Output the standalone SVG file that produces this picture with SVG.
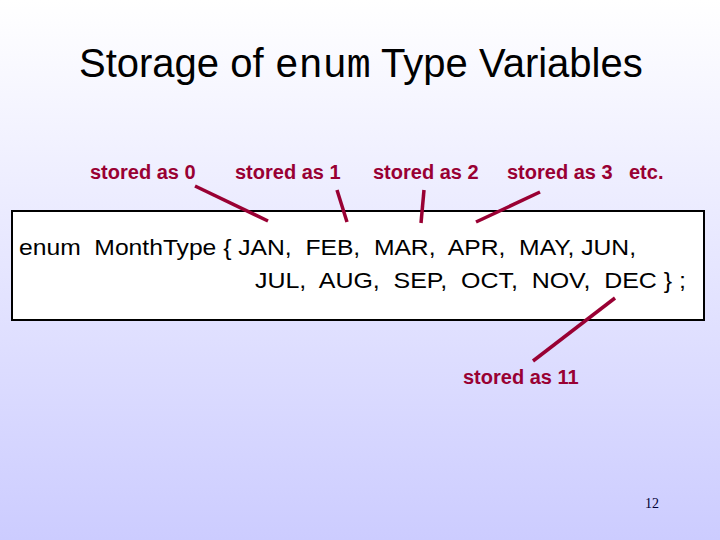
<svg xmlns="http://www.w3.org/2000/svg" width="720" height="540" viewBox="0 0 720 540">
<defs>
<linearGradient id="bg" x1="0" y1="0" x2="0" y2="1">
<stop offset="0" stop-color="#FFFFFF"/>
<stop offset="1" stop-color="#CCCCFF"/>
</linearGradient>
<style>
.lbl{font-family:"Liberation Sans",Arial,sans-serif;font-size:20px;font-weight:bold;fill:#990033}
.code{font-family:"Liberation Sans",Arial,sans-serif;font-size:22px;fill:#000}
.conn{stroke:#990033;stroke-width:3.5;stroke-linecap:butt;fill:none}
</style>
</defs>
<rect width="720" height="540" fill="url(#bg)"/>
<g id="title">
<text x="79" y="77" style="font-family:'Liberation Sans',Arial,sans-serif;font-size:40px;fill:#000" xml:space="preserve">Storage of <tspan style="font-family:'Liberation Mono','Courier New',monospace">enum</tspan> Type Variables</text>
</g>
<g id="box">
<rect x="12" y="211" width="692" height="109" fill="#FFFFFF" stroke="#000" stroke-width="2"/>
<text class="code" x="19" y="255" xml:space="preserve" textLength="617" lengthAdjust="spacingAndGlyphs">enum  MonthType { JAN,  FEB,  MAR,  APR,  MAY, JUN,</text>
<text class="code" x="255" y="288" xml:space="preserve" textLength="431" lengthAdjust="spacingAndGlyphs">JUL,  AUG,  SEP,  OCT,  NOV,  DEC } ;</text>
</g>
<g id="labels">
<text class="lbl" x="90" y="179">stored as 0</text>
<text class="lbl" x="235" y="179">stored as 1</text>
<text class="lbl" x="373" y="179">stored as 2</text>
<text class="lbl" x="507" y="179">stored as 3</text>
<text class="lbl" x="629" y="179">etc.</text>
<text class="lbl" x="463" y="384">stored as 11</text>
</g>
<g id="connectors">
<line class="conn" x1="195" y1="186" x2="268" y2="221"/>
<line class="conn" x1="337" y1="190" x2="347" y2="222"/>
<line class="conn" x1="424" y1="190" x2="421" y2="223"/>
<line class="conn" x1="540" y1="192" x2="476" y2="222"/>
<line class="conn" x1="615" y1="298" x2="533" y2="361"/>
</g>
<g id="page">
<text x="645" y="508" style="font-family:'Liberation Serif','Times New Roman',serif;font-size:14px;fill:#000033">12</text>
</g>
</svg>
